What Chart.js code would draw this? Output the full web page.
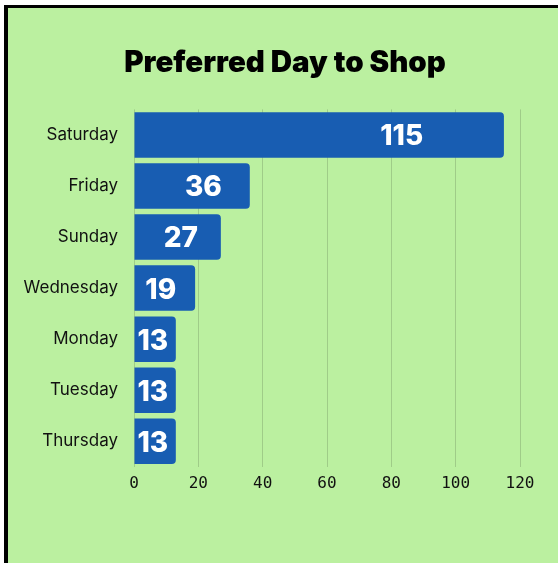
<!DOCTYPE html>
<html>
<head>
<meta charset="utf-8">
<script src="https://cdn.jsdelivr.net/npm/chart.js@4"></script>
<style>
  html, body { margin: 0; padding: 0; background: #fff; overflow: hidden; }
  #frame {
    position: absolute; left: 4px; top: 5px; width: 700px; height: 700px;
    border-left: 4px solid #000; border-top: 3px solid #000;
    background: #bbf0a0;
  }
  #wrap { position: absolute; left: 0; top: 0; width: 558px; height: 563px; }
</style>
</head>
<body>
<div id="frame"></div>
<div id="wrap"><canvas id="barChart"></canvas></div>
<script>
// data
var days = ["Saturday", "Friday", "Sunday", "Wednesday", "Monday", "Tuesday", "Thursday"];
var counts = [115, 36, 27, 19, 13, 13, 13];
var xTicks = [0, 20, 40, 60, 80, 100, 120];

// white numbers inside the bars
var barLabels = {
    id: 'barLabels',
    afterLayout: function (chart) {
        // title sits a bit right of the canvas centre
        if (chart.titleBlock) chart.titleBlock.left = 50;
    },
    afterDatasetsDraw: function (chart) {
        var ctx = chart.ctx;
        var meta = chart.getDatasetMeta(0);
        ctx.save();
        ctx.font = '800 28px Inter, "Noto Sans", sans-serif';
        ctx.fillStyle = '#ffffff';
        ctx.textAlign = 'center';
        ctx.textBaseline = 'middle';
        meta.data.forEach(function (bar, i) {
            var txt = String(counts[i]);
            var w = ctx.measureText(txt).width;
            var x = bar.base + (bar.x - bar.base) * 0.78 - 21;
            x = Math.max(x, bar.base + w / 2 + 3);
            ctx.fillText(txt, x, bar.y + 2);
        });
        ctx.restore();
    }
};

var ctxB = document.getElementById("barChart").getContext('2d');
var myBarChart = new Chart(ctxB, {
    type: 'bar',
    data: {
        labels: days,
        datasets: [{
            label: "Shoppers",
            data: counts,
            backgroundColor: '#185db2',
            borderRadius: 4,
            barPercentage: 1,
            categoryPercentage: 0.892
        }]
    },
    options: {
        indexAxis: 'y',
        responsive: true,
        maintainAspectRatio: false,
        animation: false,
        layout: {
            padding: { left: 0, right: 38, top: 0, bottom: 63 }
        },
        plugins: {
            legend: { display: false },
            tooltip: { enabled: false },
            title: {
                display: true,
                text: 'Preferred Day to Shop',
                color: '#000',
                font: { family: 'Inter, "Noto Sans", sans-serif', size: 29.5, weight: '900', lineHeight: 1.2 },
                padding: { top: 45, bottom: 29 }
            }
        },
        scales: {
            x: {
                min: 0,
                max: 120,
                afterBuildTicks: function (scale) {
                    scale.ticks = xTicks.map(function (v) { return { value: v }; });
                },
                border: { display: false },
                grid: { display: true, color: 'rgba(0,0,0,0.15)', drawTicks: false },
                ticks: {
                    color: '#111',
                    padding: 7,
                    font: { family: '"DejaVu Sans Mono", monospace', size: 16 }
                }
            },
            y: {
                afterFit: function (scale) { scale.width = 134; },
                border: { display: false },
                grid: { display: false, drawTicks: false },
                ticks: {
                    color: '#111',
                    padding: 16,
                    font: { family: 'Inter, "Noto Sans", sans-serif', size: 17 }
                }
            }
        }
    },
    plugins: [barLabels]
});
</script>
</body>
</html>
